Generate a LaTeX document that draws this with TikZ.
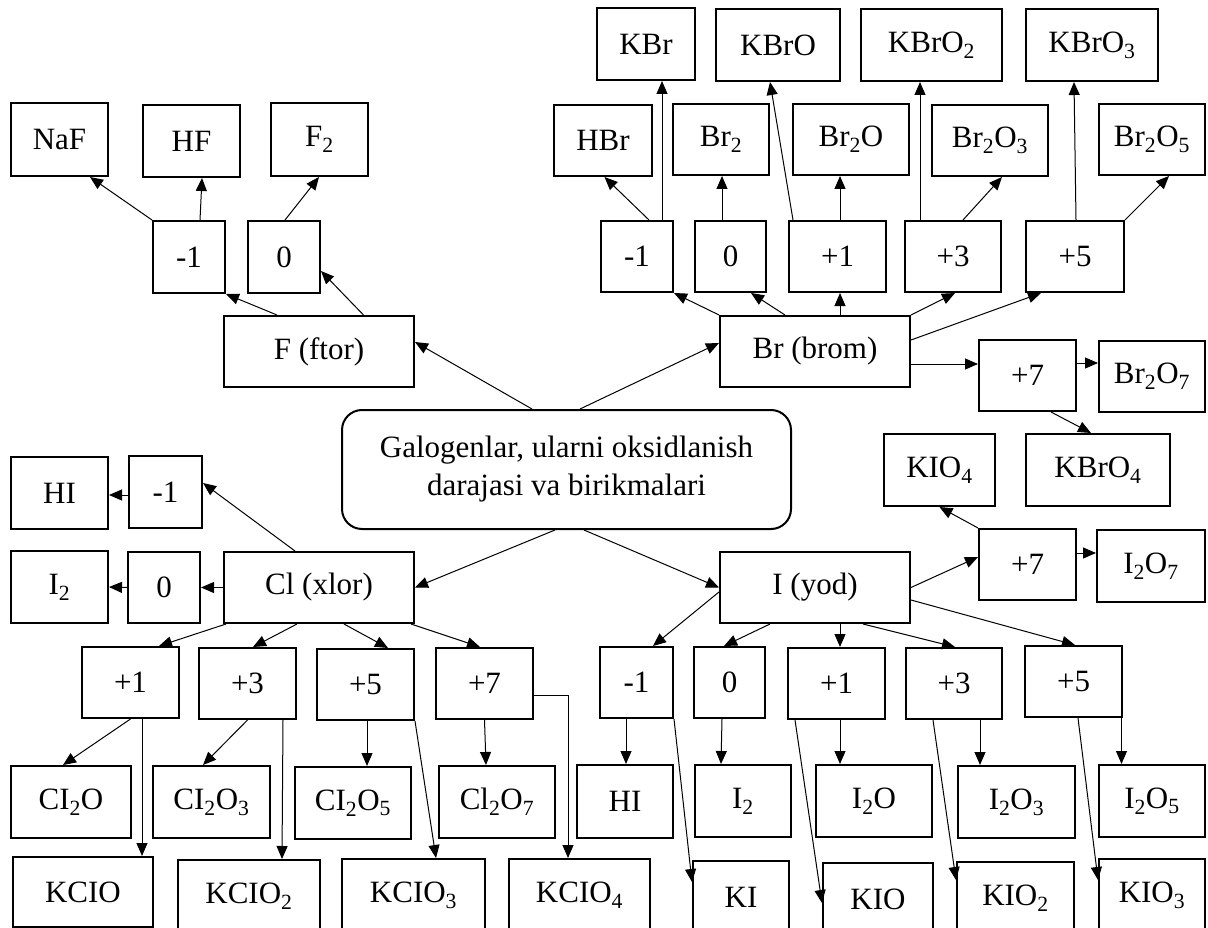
\documentclass[tikz,border=0pt]{standalone}
\usepackage{fontspec}
\setmainfont{Liberation Serif}
\usetikzlibrary{arrows.meta}
\newcommand\sub[1]{\textsubscript{#1}}
% \bx{name}{left}{top}{right}{bottom}{text}
\newcommand\bx[6]{\node[box, minimum width={(#4)-(#2)}, minimum height={(#5)-(#3)}]
  (#1) at ({((#2)+(#4))/2},{((#3)+(#5))/2}) {#6};}
\begin{document}
\begin{tikzpicture}[x=1pt,y=-1pt,
  box/.style={draw, line width=2pt, inner sep=0pt, font=\fontsize{31}{38}\selectfont},
  link/.style={line width=1pt, -{Triangle[length=13pt,width=11pt]}}]
\useasboundingbox (0,0) rectangle (1208,928);
\clip (0,0) rectangle (1208,928);

% centre
\node[box, rounded corners=20pt, align=center, minimum width=449pt, minimum height=119pt]
  (gal) at (566.5,469.5) {Galogenlar, ularni oksidlanish\\darajasi va birikmalari};

% fluorine
\bx{naf}{11}{103}{108}{176}{NaF}
\bx{hf}{143}{105}{240}{177}{HF}
\bx{ftwo}{271}{103}{368}{176}{F\sub{2}}
\bx{fm1}{153}{221}{225}{293}{-1}
\bx{fz}{248}{221}{320}{293}{0}
\bx{ftor}{224}{316}{414}{387}{F (ftor)}

% bromine
\bx{kbr}{597}{8}{695}{80}{KBr}
\bx{kbro}{716}{9}{840}{81}{KBrO}
\bx{kbro2}{861}{9}{1002}{81}{KBrO\sub{2}}
\bx{kbro3}{1026}{9}{1158}{81}{KBrO\sub{3}}
\bx{hbr}{554}{105}{652}{176}{HBr}
\bx{brtwo}{673}{104}{769}{175}{Br\sub{2}}
\bx{brtwoo}{793}{104}{909}{175}{Br\sub{2}O}
\bx{brtwoothree}{932}{105}{1048}{176}{Br\sub{2}O\sub{3}}
\bx{brtwoofive}{1099}{104}{1205}{175}{Br\sub{2}O\sub{5}}
\bx{bm1}{601}{221}{673}{292}{-1}
\bx{bz}{695}{221}{766}{292}{0}
\bx{bp1}{789}{221}{886}{292}{+1}
\bx{bp3}{905}{221}{1001}{292}{+3}
\bx{bp5}{1026}{221}{1124}{292}{+5}
\bx{brom}{720}{316}{910}{387}{Br (brom)}
\bx{bp7}{979}{340}{1076}{411}{+7}
\bx{brtwooseven}{1099}{341}{1205}{412}{Br\sub{2}O\sub{7}}
\bx{kbro4}{1026}{434}{1170}{506}{KBrO\sub{4}}

% iodine
\bx{kio4}{884}{434}{995}{506}{KIO\sub{4}}
\bx{ip7}{979}{529}{1076}{600}{+7}
\bx{itwooseven}{1097}{530}{1205}{602}{I\sub{2}O\sub{7}}
\bx{yod}{720}{552}{910}{623}{I (yod)}
\bx{im1}{600}{647}{673}{718}{-1}
\bx{iz}{694}{647}{765}{718}{0}
\bx{ip1}{788}{648}{885}{719}{+1}
\bx{ip3}{906}{648}{1002}{719}{+3}
\bx{ip5}{1025}{646}{1122}{717}{+5}
\bx{hib}{577}{765}{673}{838}{HI}
\bx{itwob}{695}{765}{791}{837}{I\sub{2}}
\bx{itwoo}{816}{765}{932}{837}{I\sub{2}O}
\bx{itwoothree}{958}{766}{1075}{838}{I\sub{2}O\sub{3}}
\bx{itwoofive}{1099}{765}{1205}{837}{I\sub{2}O\sub{5}}
\bx{ki}{693}{861}{789}{933}{KI}
\bx{kio}{823}{863}{933}{935}{KIO}
\bx{kio2}{957}{862}{1074}{934}{KIO\sub{2}}
\bx{kio3}{1099}{859}{1205}{931}{KIO\sub{3}}

% chlorine
\bx{hia}{11}{457}{108}{529}{HI}
\bx{cm1}{129}{456}{202}{528}{-1}
\bx{itwoa}{11}{551}{108}{623}{I\sub{2}}
\bx{cz}{128}{552}{200}{623}{0}
\bx{xlor}{224}{552}{414}{623}{Cl (xlor)}
\bx{cp1}{82}{647}{179}{718}{+1}
\bx{cp3}{199}{648}{296}{719}{+3}
\bx{cp5}{317}{649}{414}{720}{+5}
\bx{cp7}{436}{648}{533}{719}{+7}
\bx{cltwoo}{11}{766}{131}{838}{CI\sub{2}O}
\bx{cltwoothree}{153}{766}{270}{838}{CI\sub{2}O\sub{3}}
\bx{cltwoofive}{295}{767}{411}{839}{CI\sub{2}O\sub{5}}
\bx{cltwooseven}{439}{766}{555}{838}{Cl\sub{2}O\sub{7}}
\bx{kclo}{13}{857}{153}{927}{KCIO}
\bx{kclo2}{178}{860}{320}{932}{KCIO\sub{2}}
\bx{kclo3}{342}{859}{485}{931}{KCIO\sub{3}}
\bx{kclo4}{509}{859}{650}{931}{KCIO\sub{4}}

% --- connectors: fluorine
\draw[link] ([xshift=-34.5pt]gal.north) -- ([yshift=9.5pt]ftor.east);
\draw[link] ([xshift=-42pt]ftor.north) -- (fm1.south east);
\draw[link] ([xshift=44.5pt]ftor.north) -- ([yshift=-14pt]fz.east);
\draw[link] (fm1.north west) -- ([xshift=30.5pt]naf.south);
\draw[link] ([xshift=11pt]fm1.north) -- ([xshift=10.5pt]hf.south);
\draw[link] ([xshift=1pt]fz.north) -- ([xshift=-0.5pt]ftwo.south);

% --- connectors: bromine
\draw[link] ([xshift=13.5pt]gal.north) -- ([yshift=8.5pt]brom.west);
\draw[link] (brom.north west) -- (bm1.south east);
\draw[link] ([xshift=-30pt]brom.north) -- ([xshift=20.5pt]bz.south);
\draw[link] ([xshift=25pt]brom.north) -- ([xshift=2.5pt]bp1.south);
\draw[link] (brom.north east) -- ([xshift=2pt]bp3.south);
\draw[link] ([yshift=11.5pt]brom.east) -- ([xshift=-34pt]bp5.south);
\draw[link] ([yshift=-12.5pt]brom.east) -- ([yshift=11.5pt]bp7.west);
\draw[link] ([yshift=12.5pt]bp7.east) -- ([yshift=13.5pt]brtwooseven.west);
\draw[link] ([xshift=23.5pt]bp7.south) -- ([xshift=-7pt]kbro4.north);
\draw[link] ([xshift=12pt]bm1.north) -- ([xshift=1.5pt]hbr.south);
\draw[link] ([xshift=25pt]bm1.north) -- ([xshift=16pt]kbr.south);
\draw[link] ([xshift=-8.5pt]bz.north) -- ([xshift=1pt]brtwo.south);
\draw[link] ([xshift=-44.5pt]bp1.north) -- ([xshift=-8pt]kbro.south);
\draw[link] ([xshift=2.5pt]bp1.north) -- ([xshift=-11pt]brtwoo.south);
\draw[link] ([xshift=-33pt]bp3.north) -- ([xshift=-11.5pt]kbro2.south);
\draw[link] ([xshift=10pt]bp3.north) -- ([xshift=12pt]brtwoothree.south);
\draw[link] ([xshift=1pt]bp5.north) -- ([xshift=-18pt]kbro3.south);
\draw[link] (bp5.north east) -- ([xshift=17pt]brtwoofive.south);

% --- connectors: chlorine
\draw[link] ([xshift=-11.5pt]gal.south) -- (xlor.east);
\draw[link] ([xshift=-24pt]xlor.north) -- ([yshift=9pt]cm1.east);
\draw[link] ([yshift=-3pt]cm1.west) -- ([yshift=-2pt]hia.east);
\draw[link] (cz.west) -- (itwoa.east);
\draw[link] (xlor.west) -- (cz.east);
\draw[link] ([xshift=-93pt]xlor.south) -- ([xshift=28.5pt]cp1.north);
\draw[link] ([xshift=-22pt]xlor.south) -- ([xshift=5.5pt]cp3.north);
\draw[link] ([xshift=25pt]xlor.south) -- ([xshift=22.5pt]cp5.north);
\draw[link] ([xshift=92pt]xlor.south) -- ([xshift=-4.5pt]cp7.north);
\draw[link] (cp1.south) -- ([xshift=-8pt]cltwoo.north);
\draw[link] ([xshift=11.5pt]cp1.south) -- ([xshift=59pt]kclo.north);
\draw[link] (cp3.south) -- ([xshift=-8.5pt]cltwoothree.north);
\draw[link] ([xshift=35.5pt]cp3.south) -- ([xshift=33pt]kclo2.north);
\draw[link] ([xshift=1.5pt]cp5.south) -- ([xshift=14pt]cltwoofive.north);
\draw[link] (cp5.south east) -- ([xshift=22.5pt]kclo3.north);
\draw[link] (cp7.south) -- ([xshift=-11pt]cltwooseven.north);
\draw[link] ([yshift=-11.5pt]cp7.east) -| ([xshift=-11.5pt]kclo4.north);

% --- connectors: iodine
\draw[link] ([xshift=17.5pt]gal.south) -- (yod.west);
\draw[link] (yod.east) -- ([yshift=7.5pt]ip7.west);
\draw[link] ([yshift=11.5pt]ip7.east) -- ([yshift=13pt]itwooseven.west);
\draw[link] (ip7.north west) -- (kio4.south);
\draw[link] ([yshift=-4.5pt]yod.west) -- ([xshift=16.5pt]im1.north);
\draw[link] ([xshift=-45pt]yod.south) -- ([xshift=-5.5pt]iz.north);
\draw[link] ([xshift=25pt]yod.south) -- ([xshift=3.5pt]ip1.north);
\draw[link] ([xshift=48pt]yod.south) -- ([xshift=1pt]ip3.north);
\draw[link] ([yshift=-12.5pt]yod.east) -- ([xshift=1.5pt]ip5.north);
\draw[link] ([xshift=-10.5pt]im1.south) -- ([xshift=1pt]hib.north);
\draw[link] (im1.south east) -- ([yshift=15pt]ki.west);
\draw[link] ([xshift=-7.5pt]iz.south) -- ([xshift=-22pt]itwob.north);
\draw[link] ([xshift=-41.5pt]ip1.south) -- ([yshift=-4pt]kio.west);
\draw[link] ([xshift=3.5pt]ip1.south) -- ([xshift=-34pt]itwoo.north);
\draw[link] ([xshift=-21pt]ip3.south) -- ([yshift=18pt]kio2.west);
\draw[link] ([xshift=26pt]ip3.south) -- ([xshift=-36.5pt]itwoothree.north);
\draw[link] ([xshift=4.5pt]ip5.south) -- ([yshift=15pt]kio3.west);
\draw[link] ([xshift=48pt]ip5.south) -- ([xshift=-30.5pt]itwoofive.north);
\end{tikzpicture}
\end{document}
